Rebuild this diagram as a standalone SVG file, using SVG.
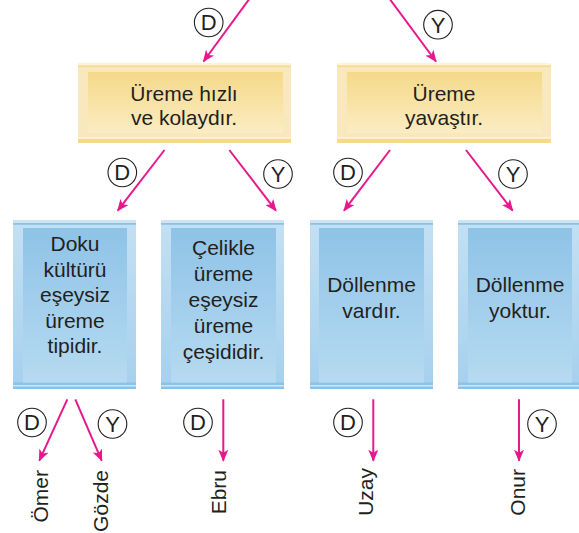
<svg xmlns="http://www.w3.org/2000/svg" width="579" height="533" viewBox="0 0 579 533">
<style>
text{font-family:"Liberation Sans",Arial,sans-serif;font-size:21px;fill:#231f20;}
.c{text-anchor:middle;}
.r{text-anchor:end;}
.l{text-anchor:middle;font-size:22px;}
.arr{stroke:#e6198c;stroke-width:2;fill:none;marker-end:url(#ah);}
.ring{fill:#fff;stroke:#231f20;stroke-width:1.1;}
.ys{fill:#f9e8bd;}
.yd{fill:#f5da8c;}
.yl{fill:#fdf3da;}
.bd{fill:#8cc2e6;}
.bl{fill:#cbe5f5;}
</style>
<defs>
<marker id="ah" viewBox="0 0 12 10" markerWidth="12" markerHeight="10" refX="11" refY="5" orient="auto" markerUnits="userSpaceOnUse">
<path d="M0,0 L12,5 L0,10 L3,5 Z" fill="#e6198c"/>
</marker>
<linearGradient id="yg" x1="0" y1="0" x2="0" y2="1">
<stop offset="0" stop-color="#f5d98a"/>
<stop offset="1" stop-color="#fbecc2"/>
</linearGradient>
<linearGradient id="bg" x1="0" y1="0" x2="0" y2="1">
<stop offset="0" stop-color="#8ec3e7"/>
<stop offset="1" stop-color="#b6daf1"/>
</linearGradient>
<linearGradient id="bsg" x1="0" y1="0" x2="0" y2="1">
<stop offset="0" stop-color="#c3e0f3"/>
<stop offset="1" stop-color="#a6d0ee"/>
</linearGradient>
</defs>

<g id="connectors">
<line class="arr" x1="250" y1="-2" x2="203.5" y2="61.5"/>
<line class="arr" x1="389" y1="-2" x2="436" y2="61.5"/>
<line class="arr" x1="164.5" y1="150" x2="117.7" y2="210.7"/>
<line class="arr" x1="229.3" y1="150" x2="276" y2="210.7"/>
<line class="arr" x1="390" y1="150" x2="344" y2="210.7"/>
<line class="arr" x1="466" y1="150" x2="512.7" y2="210.7"/>
<line class="arr" x1="67.3" y1="399.3" x2="39.3" y2="460.7"/>
<line class="arr" x1="75.3" y1="399.3" x2="101.7" y2="460.7"/>
<line class="arr" x1="223.3" y1="399.3" x2="223.3" y2="460.7"/>
<line class="arr" x1="373.3" y1="399.3" x2="373.3" y2="460.7"/>
<line class="arr" x1="519" y1="399.3" x2="519" y2="460.7"/>
</g>

<g id="labels">
<g><circle class="ring" cx="208.7" cy="22.5" r="14.3"/><text class="l" x="208.7" y="30.3">D</text></g>
<g><circle class="ring" cx="438" cy="24.7" r="14.3"/><text class="l" x="438" y="32.5">Y</text></g>
<g><circle class="ring" cx="122.3" cy="172.5" r="14.3"/><text class="l" x="122.3" y="180.3">D</text></g>
<g><circle class="ring" cx="278" cy="174" r="14.3"/><text class="l" x="278" y="181.8">Y</text></g>
<g><circle class="ring" cx="348" cy="172.5" r="14.3"/><text class="l" x="348" y="180.3">D</text></g>
<g><circle class="ring" cx="513" cy="174" r="14.3"/><text class="l" x="513" y="181.8">Y</text></g>
<g><circle class="ring" cx="32" cy="422.5" r="14.3"/><text class="l" x="32" y="430.3">D</text></g>
<g><circle class="ring" cx="112.5" cy="424" r="14.3"/><text class="l" x="112.5" y="431.8">Y</text></g>
<g><circle class="ring" cx="198" cy="422.5" r="14.3"/><text class="l" x="198" y="430.3">D</text></g>
<g><circle class="ring" cx="348" cy="422.5" r="14.3"/><text class="l" x="348" y="430.3">D</text></g>
<g><circle class="ring" cx="542" cy="424" r="14.3"/><text class="l" x="542" y="431.8">Y</text></g>
</g>

<g id="yellow1">
<rect class="ys" x="78" y="63" width="213" height="80"/>
<rect class="yl" x="78" y="63" width="213" height="2.5"/>
<rect class="yd" x="78" y="65.5" width="213" height="1.5"/>
<rect class="yd" x="78" y="139" width="213" height="4"/>
<rect class="yl" x="78" y="137" width="213" height="1.5"/>
<rect x="88" y="72" width="195" height="61" fill="url(#yg)"/>
<text class="c" x="184" y="101">Üreme hızlı</text>
<text class="c" x="184" y="125">ve kolaydır.</text>
</g>

<g id="yellow2">
<rect class="ys" x="337" y="63" width="214" height="80"/>
<rect class="yl" x="337" y="63" width="214" height="2.5"/>
<rect class="yd" x="337" y="65.5" width="214" height="1.5"/>
<rect class="yd" x="337" y="139" width="214" height="4"/>
<rect class="yl" x="337" y="137" width="214" height="1.5"/>
<rect x="347" y="72" width="195" height="61" fill="url(#yg)"/>
<text class="c" x="444" y="101">Üreme</text>
<text class="c" x="444" y="125">yavaştır.</text>
</g>

<g id="blue1">
<rect x="13" y="220" width="123" height="169" fill="url(#bsg)"/>
<rect class="bl" x="13" y="220" width="123" height="3"/>
<rect class="bd" x="13" y="223" width="123" height="1.8"/>
<rect class="bd" x="13" y="382.5" width="123" height="2.5"/>
<rect class="bl" x="13" y="385" width="123" height="1.7"/>
<rect class="bd" x="13" y="386.7" width="123" height="2.3"/>
<rect x="23" y="228" width="104" height="154.5" fill="url(#bg)"/>
<text class="c" x="75" y="251">Doku</text>
<text class="c" x="75" y="276.5">kültürü</text>
<text class="c" x="75" y="302">eşeysiz</text>
<text class="c" x="75" y="327.5">üreme</text>
<text class="c" x="75" y="353">tipidir.</text>
</g>

<g id="blue2">
<rect x="161" y="220" width="123" height="169" fill="url(#bsg)"/>
<rect class="bl" x="161" y="220" width="123" height="3"/>
<rect class="bd" x="161" y="223" width="123" height="1.8"/>
<rect class="bd" x="161" y="382.5" width="123" height="2.5"/>
<rect class="bl" x="161" y="385" width="123" height="1.7"/>
<rect class="bd" x="161" y="386.7" width="123" height="2.3"/>
<rect x="171" y="228" width="105" height="154.5" fill="url(#bg)"/>
<text class="c" x="223.5" y="255">Çelikle</text>
<text class="c" x="223.5" y="281">üreme</text>
<text class="c" x="223.5" y="307">eşeysiz</text>
<text class="c" x="223.5" y="333">üreme</text>
<text class="c" x="223.5" y="359">çeşididir.</text>
</g>

<g id="blue3">
<rect x="310" y="220" width="123" height="169" fill="url(#bsg)"/>
<rect class="bl" x="310" y="220" width="123" height="3"/>
<rect class="bd" x="310" y="223" width="123" height="1.8"/>
<rect class="bd" x="310" y="382.5" width="123" height="2.5"/>
<rect class="bl" x="310" y="385" width="123" height="1.7"/>
<rect class="bd" x="310" y="386.7" width="123" height="2.3"/>
<rect x="319" y="228" width="105" height="154.5" fill="url(#bg)"/>
<text class="c" x="371.5" y="292">Döllenme</text>
<text class="c" x="371.5" y="318">vardır.</text>
</g>

<g id="blue4">
<rect x="458" y="220" width="123" height="169" fill="url(#bsg)"/>
<rect class="bl" x="458" y="220" width="123" height="3"/>
<rect class="bd" x="458" y="223" width="123" height="1.8"/>
<rect class="bd" x="458" y="382.5" width="123" height="2.5"/>
<rect class="bl" x="458" y="385" width="123" height="1.7"/>
<rect class="bd" x="458" y="386.7" width="123" height="2.3"/>
<rect x="468" y="228" width="104" height="154.5" fill="url(#bg)"/>
<text class="c" x="520" y="292">Döllenme</text>
<text class="c" x="520" y="318">yoktur.</text>
</g>

<g id="names">
<g id="omer"><text class="r" transform="translate(48,470) rotate(-90)">Ömer</text></g>
<g id="gozde"><text class="r" transform="translate(108,470) rotate(-90)">Gözde</text></g>
<g id="ebru"><text class="r" transform="translate(226,470) rotate(-90)">Ebru</text></g>
<g id="uzay"><text class="r" transform="translate(373,468) rotate(-90)">Uzay</text></g>
<g id="onur"><text class="r" transform="translate(525,469) rotate(-90)">Onur</text></g>
</g>
</svg>
